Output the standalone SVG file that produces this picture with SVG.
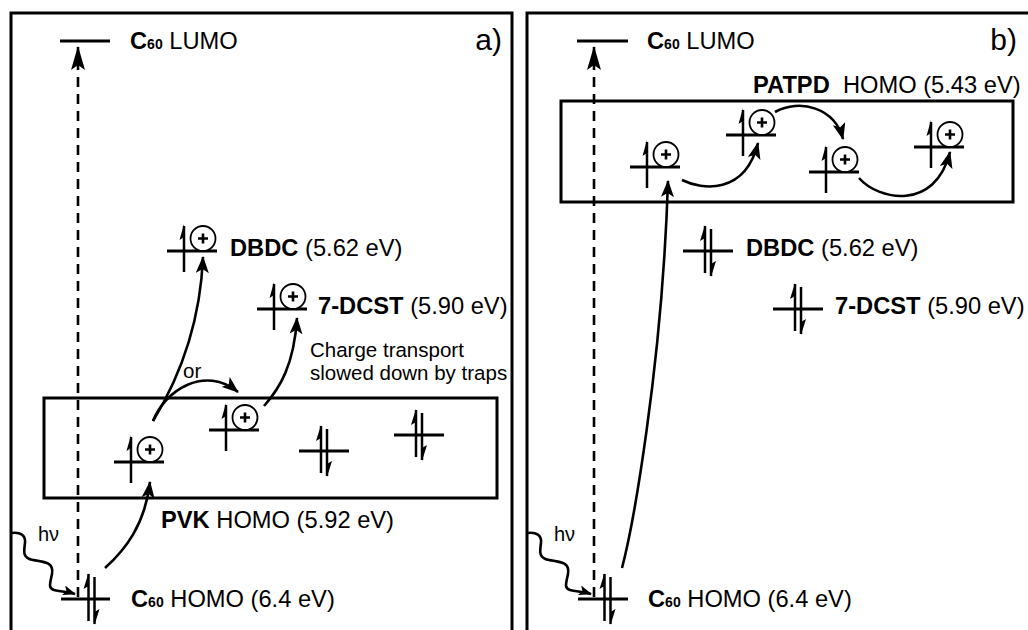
<svg xmlns="http://www.w3.org/2000/svg" width="1028" height="630" viewBox="0 0 1028 630">
<style>
text{font-family:"Liberation Sans",Arial,sans-serif;font-size:23.7px;fill:#000}
.b{font-weight:bold}
.sub{font-weight:bold;font-size:14px}
.sm{font-size:20.5px}
.frame{fill:none;stroke:#000;stroke-width:3}
.lvl{stroke:#000;stroke-width:3;fill:none}
.ar{fill:none;stroke:#000;stroke-width:2.6}
.dash{fill:none;stroke:#000;stroke-width:2.6;stroke-dasharray:10 7}
</style>
<defs>
<marker id="ah" markerUnits="userSpaceOnUse" markerWidth="17" markerHeight="13" viewBox="0 0 17 13" refX="16" refY="6.5" orient="auto"><path d="M0,0 L17,6.5 L0,13 L4,6.5 z" fill="#000"/></marker>
<marker id="ahL" markerUnits="userSpaceOnUse" markerWidth="24" markerHeight="14" viewBox="0 0 24 14" refX="23" refY="7" orient="auto"><path d="M0,0 L24,7 L0,14 L5,7 z" fill="#000"/></marker>
<marker id="ahS" markerUnits="userSpaceOnUse" markerWidth="13" markerHeight="10" viewBox="0 0 13 10" refX="12" refY="5" orient="auto"><path d="M0,0 L13,5 L0,10 L3,5 z" fill="#000"/></marker>
<g id="spins">
<line x1="-3" y1="-25" x2="-3" y2="22" stroke="#000" stroke-width="2.5"/>
<line x1="3" y1="-22" x2="3" y2="25" stroke="#000" stroke-width="2.5"/>
<path d="M-3,-26 L-8,-10 L-3,-13 z" fill="#000"/>
<path d="M3,26 L8,10 L3,13 z" fill="#000"/>
</g>
<g id="pair">
<line x1="-25" y1="0" x2="25" y2="0" stroke="#000" stroke-width="3"/>
<use href="#spins"/>
</g>
<g id="hole">
<line x1="-25" y1="0" x2="25" y2="0" stroke="#000" stroke-width="3"/>
<line x1="-8" y1="-25" x2="-8" y2="21" stroke="#000" stroke-width="2.5"/>
<path d="M-8,-27 L-12.5,-11 L-8,-14 z" fill="#000"/>
<circle cx="11" cy="-12.5" r="12.5" fill="#fff" stroke="#000" stroke-width="1.8"/>
<path d="M6,-12.5 H16 M11,-17.5 V-7.5" stroke="#000" stroke-width="2.6"/>
</g>
</defs>

<g id="frames">
<rect class="frame" x="11" y="13" width="501" height="640"/>
<rect class="frame" x="527" y="13" width="510" height="640"/>
</g>

<g id="connectors">
<path class="dash" d="M78,597 L78,47" marker-end="url(#ahL)"/>
<path class="ar" d="M12,533 C20,532 26,535 25,543 C24,551 22,558 33,560 C46,562 54,563 52,574 C50,584 48,588 54,590 C60,592 66,591 75,594" marker-end="url(#ahS)"/>
<path class="ar" d="M105,568 C125,550 145,525 150,482" marker-end="url(#ah)"/>
<path class="ar" d="M153,421 C175,385 200,330 203,257" marker-end="url(#ah)"/>
<path class="ar" d="M153,421 C165,390 205,365 238,392" marker-end="url(#ah)"/>
<path class="ar" d="M264,406 C280,388 294,365 297,318" marker-end="url(#ah)"/>

<path class="dash" d="M594,597 L594,47" marker-end="url(#ahL)"/>
<path class="ar" d="M528,533 C536,532 542,535 541,543 C540,551 538,558 549,560 C562,562 570,563 568,574 C566,584 564,588 570,590 C576,592 582,591 591,594" marker-end="url(#ahS)"/>
<path class="ar" d="M622,568 C632,530 662,370 668,181" marker-end="url(#ah)"/>
<path class="ar" d="M682,180 C702,190 745,195 758,143" marker-end="url(#ah)"/>
<path class="ar" d="M775,112 C800,98 835,108 843,139" marker-end="url(#ah)"/>
<path class="ar" d="M859,178 C878,200 935,212 950,152" marker-end="url(#ah)"/>
</g>

<g id="panel-a">
<text x="502" y="50" text-anchor="end" style="font-size:30px">a)</text>
<g id="a-lumo">
<line class="lvl" x1="60" y1="41" x2="110" y2="41"/>
<text x="130" y="49"><tspan class="b">C</tspan><tspan class="sub">60</tspan> LUMO</text>
</g>
<g id="a-dbdc">
<use href="#hole" x="192" y="251"/>
<text x="230" y="256"><tspan class="b">DBDC</tspan> (5.62 eV)</text>
</g>
<g id="a-dcst">
<use href="#hole" x="282" y="309"/>
<text x="318" y="314"><tspan class="b">7-DCST</tspan> (5.90 eV)</text>
</g>
<g id="a-note">
<text class="sm" x="310" y="357">Charge transport</text>
<text class="sm" x="310" y="380">slowed down by traps</text>
<text class="sm" x="183" y="378">or</text>
</g>
<g id="a-pvk">
<rect class="frame" x="44" y="398" width="453" height="100"/>
<use href="#hole" x="139" y="462"/>
<use href="#hole" x="234" y="430"/>
<use href="#pair" x="324" y="451"/>
<use href="#pair" x="419" y="435"/>
<text x="161" y="528"><tspan class="b">PVK</tspan> HOMO (5.92 eV)</text>
</g>
<g id="a-homo">
<line class="lvl" x1="61" y1="599" x2="110" y2="599"/>
<use href="#spins" x="91.5" y="599"/>
<text x="131" y="607"><tspan class="b">C</tspan><tspan class="sub">60</tspan> HOMO (6.4 eV)</text>
<text x="38" y="541" style="font-size:20px">hν</text>
</g>
</g>

<g id="panel-b">
<text x="1017" y="50" text-anchor="end" style="font-size:30px">b)</text>
<g id="b-lumo">
<line class="lvl" x1="577" y1="41" x2="628" y2="41"/>
<text x="647" y="49"><tspan class="b">C</tspan><tspan class="sub">60</tspan> LUMO</text>
</g>
<g id="b-patpd">
<rect class="frame" x="561" y="101" width="452" height="101"/>
<use href="#hole" x="655" y="167"/>
<use href="#hole" x="751" y="135"/>
<use href="#hole" x="834" y="172"/>
<use href="#hole" x="939" y="147"/>
<text x="753" y="93" xml:space="preserve"><tspan class="b">PATPD</tspan>  HOMO (5.43 eV)</text>
</g>
<g id="b-dbdc">
<use href="#pair" x="708" y="251"/>
<text x="746" y="256"><tspan class="b">DBDC</tspan> (5.62 eV)</text>
</g>
<g id="b-dcst">
<use href="#pair" x="798" y="309"/>
<text x="835" y="314"><tspan class="b">7-DCST</tspan> (5.90 eV)</text>
</g>
<g id="b-homo">
<line class="lvl" x1="578" y1="599" x2="628" y2="599"/>
<use href="#spins" x="607.5" y="599"/>
<text x="648" y="607"><tspan class="b">C</tspan><tspan class="sub">60</tspan> HOMO (6.4 eV)</text>
<text x="554" y="541" style="font-size:20px">hν</text>
</g>
</g>
</svg>
